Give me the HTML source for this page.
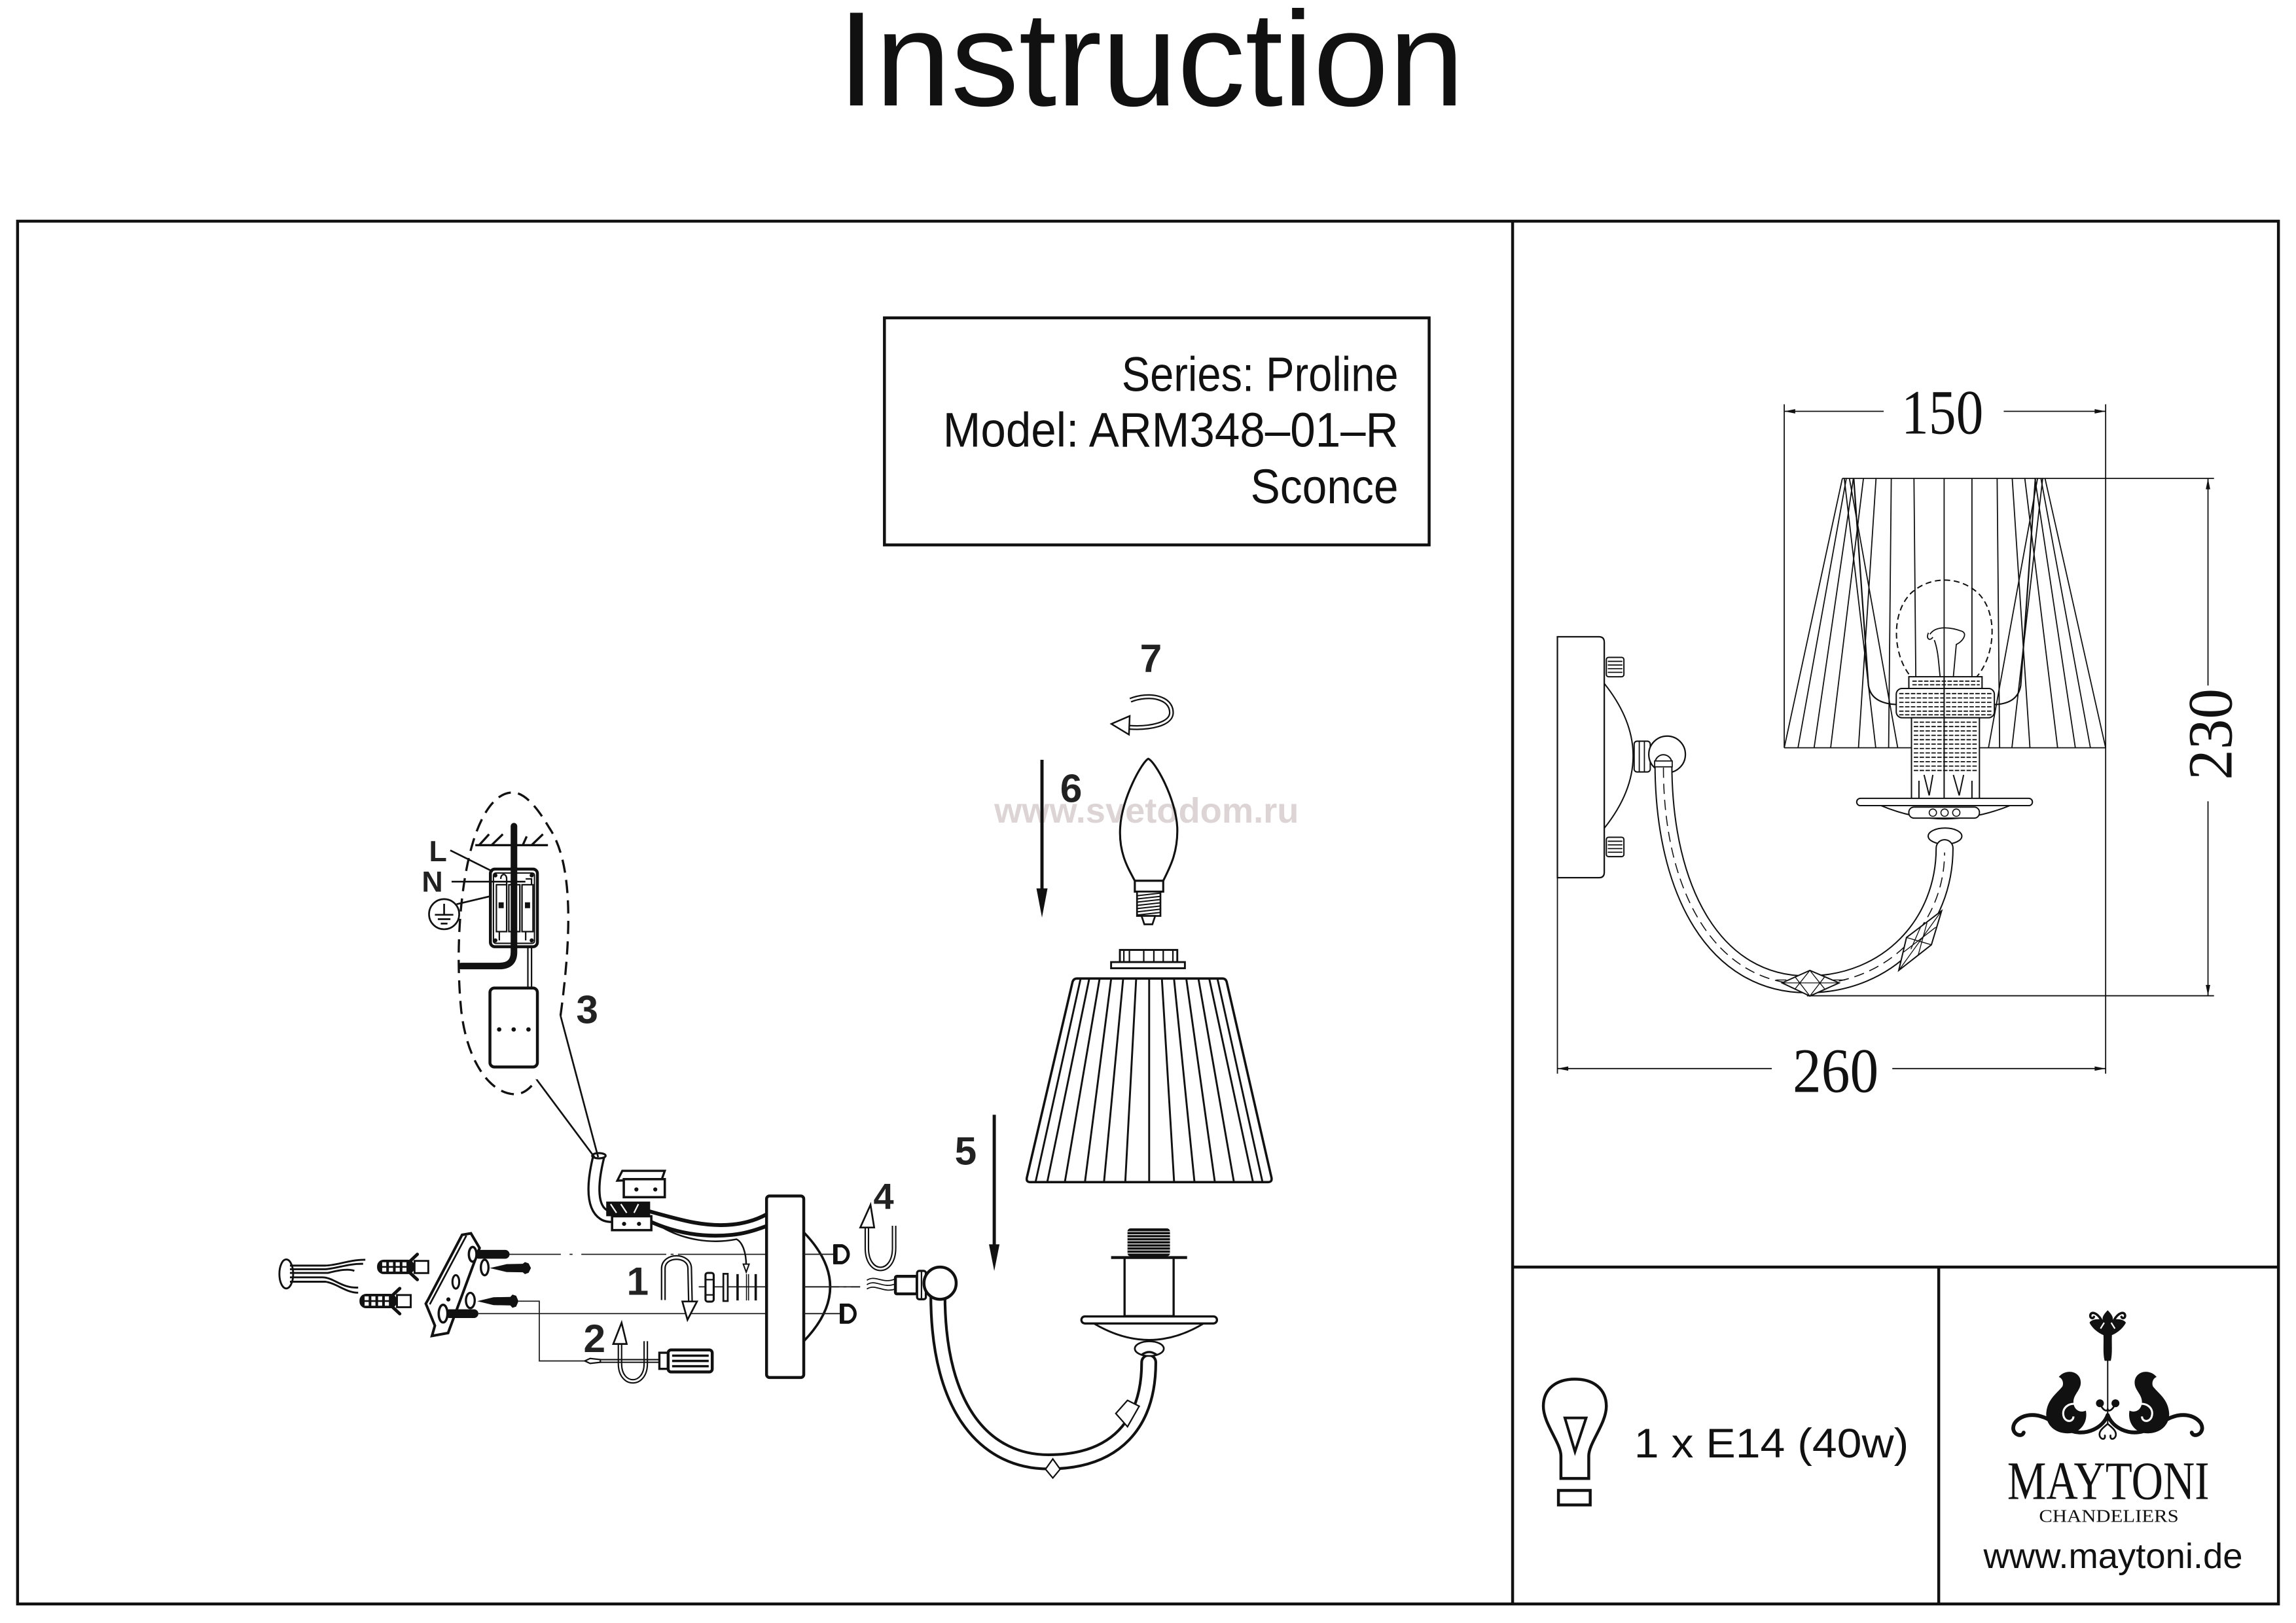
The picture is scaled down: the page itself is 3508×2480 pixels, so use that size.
<!DOCTYPE html>
<html><head><meta charset="utf-8"><title>Instruction</title>
<style>html,body{margin:0;padding:0;background:#fff}svg{display:block}</style></head><body>
<svg xmlns="http://www.w3.org/2000/svg" width="3508" height="2480" viewBox="0 0 1568 1108" preserveAspectRatio="none">
<rect width="1568" height="1108" fill="#fff"/>

<!-- Title -->
<text x="572" y="72" font-family="Liberation Sans, Arial, sans-serif" font-size="92" textLength="428" lengthAdjust="spacingAndGlyphs" fill="#111">Instruction</text>

<!-- Frame -->
<g fill="none" stroke="#111" stroke-width="2">
<rect x="12" y="151" width="1544" height="944"/>
<line x1="1033" y1="151" x2="1033" y2="1095"/>
<line x1="1033" y1="865" x2="1556" y2="865"/>
<line x1="1324" y1="865" x2="1324" y2="1095"/>
<rect x="604" y="217" width="372" height="155"/>
</g>
<g font-family="Liberation Sans, Arial, sans-serif" font-size="33" fill="#111">
<text x="766" y="267" textLength="189" lengthAdjust="spacingAndGlyphs">Series: Proline</text>
<text x="644" y="305" textLength="311" lengthAdjust="spacingAndGlyphs">Model: ARM348–01–R</text>
<text x="854" y="343.5" textLength="101" lengthAdjust="spacingAndGlyphs">Sconce</text>
</g>

<!-- ============ RIGHT DIMENSION DRAWING ============ -->
<g fill="none" stroke="#111" stroke-width="0.8">
 <line x1="1218.5" y1="280.8" x2="1286.4" y2="280.8"/>
 <line x1="1368.4" y1="280.8" x2="1438" y2="280.8"/>
 <line x1="1218.5" y1="276" x2="1218.5" y2="510.5"/>
 <line x1="1438" y1="276" x2="1438" y2="733"/>
 <line x1="1396.6" y1="326.6" x2="1512" y2="326.6"/>
 <line x1="1507.9" y1="326.6" x2="1507.9" y2="468"/>
 <line x1="1507.9" y1="547" x2="1507.9" y2="679.8"/>
 <line x1="1234" y1="679.8" x2="1512" y2="679.8"/>
 <line x1="1063.6" y1="599.2" x2="1063.6" y2="733"/>
 <line x1="1063.6" y1="729.5" x2="1210" y2="729.5"/>
 <line x1="1292.3" y1="729.5" x2="1438" y2="729.5"/>
</g>
<g fill="#111">
 <polygon points="1218.5,280.8 1226,279.3 1226,282.3"/>
 <polygon points="1438,280.8 1430.5,279.3 1430.5,282.3"/>
 <polygon points="1507.9,326.6 1506.4,334 1509.4,334"/>
 <polygon points="1507.9,679.8 1506.4,672.4 1509.4,672.4"/>
 <polygon points="1063.6,729.5 1071,728 1071,731"/>
 <polygon points="1438,729.5 1430.5,728 1430.5,731"/>
</g>
<g font-family="Liberation Serif, 'Times New Roman', serif" font-size="43" fill="#111">
 <text x="1298.5" y="296" textLength="56" lengthAdjust="spacingAndGlyphs">150</text>
 <text x="1224.3" y="745.4" textLength="58.6" lengthAdjust="spacingAndGlyphs">260</text>
 <text transform="translate(1524,532.5) rotate(-90)" textLength="62.5" lengthAdjust="spacingAndGlyphs">230</text>
</g>

<!-- shade (right) -->
<g fill="none" stroke="#111" stroke-width="0.8">
 <path d="M1258.2,326.6 L1218.5,510.5 M1396.6,326.6 L1438,510.5 M1258.2,326.6 L1396.6,326.6 M1218.5,510.5 L1438,510.5"/>
 <path d="M1260.9,326.6 L1227.9,510.5 M1265.7,326.6 L1238.9,510.5 M1272.6,326.6 L1250.2,510.5 M1281.2,326.6 L1269.2,510.5 M1291.6,326.6 L1289.8,510.5 M1307.1,326.6 L1308.8,510.5 M1327.7,326.6 L1327.7,510.5 M1346.7,326.6 L1346.7,510.5 M1363.9,326.6 L1365.6,510.5 M1374.2,326.6 L1386.3,510.5 M1382.8,326.6 L1405.2,510.5 M1389.7,326.6 L1417.3,510.5 M1393.8,326.6 L1427.6,510.5"/>
 <path d="M1259.5,326.6 L1281,510.5 M1263,326.6 L1296,510.5 M1395,326.6 L1374,510.5 M1391.5,326.6 L1358,510.5"/>
 <path d="M1266,327 L1276,468 Q1278,480.5 1296,481 M1390,327 L1380,468 Q1378,480.5 1362,481" stroke-width="1"/>
</g>
<!-- bulb dashed -->
<path d="M1308,465 C1293,452 1290,420 1305,405 C1318,393 1338,393 1351,405 C1366,420 1362,452 1347,465" fill="none" stroke="#111" stroke-width="0.9" stroke-dasharray="4 2.5"/>
<path d="M1318,433 C1322,427 1332,428 1340,431 C1344,433 1340,438 1336,440 L1334,462 M1321,437 C1324,445 1324,455 1325,462 M1317,432 C1315,436 1318,438 1320,435" fill="none" stroke="#111" stroke-width="0.8"/>
<!-- socket right -->
<g fill="#fff" stroke="#111" stroke-width="0.9">
 <rect x="1303.6" y="462" width="50" height="8"/>
 <rect x="1295" y="470" width="67" height="20" rx="4"/>
 <rect x="1305.4" y="490" width="46.4" height="56"/>
</g>
<g stroke="#111" stroke-width="0.8" fill="none" stroke-dasharray="3 1">
 <path d="M1297,473.5 H1360 M1297,476.5 H1360 M1297,479.5 H1360 M1297,482.5 H1360 M1297,485.5 H1360 M1297,488 H1360"/>
 <path d="M1307,493 H1350 M1307,496 H1350 M1307,499 H1350 M1307,502 H1350 M1307,505 H1350 M1307,508 H1350 M1307,511 H1350 M1307,514 H1350 M1307,517 H1350 M1307,520 H1350 M1307,523 H1350 M1307,526 H1350"/>
 <path d="M1306,465 H1352 M1306,467.5 H1352"/>
</g>
<g fill="none" stroke="#111" stroke-width="0.9">
 <path d="M1314,529 L1317.5,543 L1320,529 M1334,529 L1338,543 L1341,529 M1310.5,533 V546 M1346.7,533 V546"/>
 <line x1="1327.7" y1="462" x2="1327.7" y2="546"/>
</g>
<rect x="1268" y="545" width="120" height="5" rx="2.5" fill="#fff" stroke="#111" stroke-width="0.9"/>
<path d="M1284.7,550 Q1327.7,568 1372.5,550" fill="none" stroke="#111" stroke-width="0.9"/>
<rect x="1303.6" y="551" width="48.2" height="7.5" rx="3.5" fill="#fff" stroke="#111" stroke-width="0.9"/>
<g fill="none" stroke="#111" stroke-width="0.7"><circle cx="1320" cy="554.8" r="2.5"/><circle cx="1328" cy="554.8" r="2.5"/><circle cx="1336" cy="554.8" r="2.5"/></g>
<ellipse cx="1328.3" cy="570.8" rx="11.5" ry="5.5" fill="#fff" stroke="#111" stroke-width="0.9"/>
<!-- wall plate right -->
<path d="M1063.6,434.7 L1092,434.7 Q1095.6,434.7 1095.6,438.5 L1095.6,595.5 Q1095.6,599.2 1092,599.2 L1063.6,599.2 Z" fill="#fff" stroke="#111" stroke-width="1"/>
<g fill="#fff" stroke="#111" stroke-width="0.9">
 <rect x="1097" y="448.8" width="12" height="13.2" rx="1.5"/>
 <rect x="1097" y="571.6" width="12" height="13.2" rx="1.5"/>
</g>
<g stroke="#111" stroke-width="0.8"><path d="M1098,451.5 H1108 M1098,454 H1108 M1098,456.5 H1108 M1098,459 H1108 M1098,574.3 H1108 M1098,576.8 H1108 M1098,579.3 H1108 M1098,581.8 H1108"/></g>
<path d="M1095.6,466.6 Q1135,516 1095.6,565.4" fill="none" stroke="#111" stroke-width="0.9"/>
<g fill="#fff" stroke="#111" stroke-width="0.9"><rect x="1116" y="506" width="11" height="21" rx="2"/></g>
<path d="M1119.5,506 V527 M1123,506 V527" stroke="#111" stroke-width="0.8"/>
<circle cx="1138.5" cy="515" r="12.5" fill="#fff" stroke="#111" stroke-width="1"/>
<!-- arm right -->
<path d="M1136,521 C1136,610 1172,672 1234,672 C1290,672 1328,630 1328,579" fill="none" stroke="#111" stroke-width="12.4" stroke-linecap="round"/>
<path d="M1136,521 C1136,610 1172,672 1234,672 C1290,672 1328,630 1328,579" fill="none" stroke="#fff" stroke-width="10.6" stroke-linecap="round"/>
<path d="M1136,524 C1136,610 1172,672 1234,672 C1290,672 1328,630 1328,582" fill="none" stroke="#111" stroke-width="0.7" stroke-dasharray="7 4"/>
<rect x="1130" y="519.5" width="12" height="4" fill="#fff" stroke="#111" stroke-width="0.8"/>
<!-- crystals right -->
<g fill="#fff" stroke="#111" stroke-width="0.9">
 <polygon points="1217,671 1236,662.5 1256,671 1236,680"/>
 <polygon points="1296.7,662.5 1302,640 1326,621.8 1319,645"/>
</g>
<g fill="none" stroke="#111" stroke-width="0.6">
 <path d="M1217,671 H1256 M1226,667 L1236,680 L1246,667 M1226,675 L1236,662.5 L1246,675 M1213,669 H1220 M1252,669 H1260"/>
 <path d="M1296.7,662.5 L1326,621.8 M1302,640 L1319,645 M1300,650 L1322,633 M1305,648 L1312,632 M1310,652 L1316,630"/>
</g>

<!-- ============ BOTTOM RIGHT PANEL ============ -->
<g fill="none" stroke="#111" stroke-width="2">
 <path d="M1066,1009.3 L1066,994 C1066,985 1054,972 1054,960 C1054,948 1063,941.5 1075.5,941.5 C1088,941.5 1097,948 1097,960 C1097,972 1085,985 1085,994 L1085,1009.3 Z"/>
 <rect x="1064.3" y="1017.5" width="21.7" height="9.9"/>
 <polygon points="1068.7,968 1083.2,968 1075.6,991" stroke-width="1.8"/>
</g>
<text x="1116" y="995" font-family="Liberation Sans, Arial, sans-serif" font-size="28" fill="#111" textLength="187.5" lengthAdjust="spacingAndGlyphs">1 x E14 (40w)</text>

<!-- Maytoni ornament -->
<g fill="#111">
 <path d="M1439.4,894.5 C1437,897 1435.5,899 1436,901 C1432,900 1428,901 1427,903 C1429,907 1433,910 1436.5,911.5 L1442.3,911.5 C1445.8,910 1449.8,907 1451.8,903 C1450.8,901 1446.8,900 1442.8,901 C1443.3,899 1441.8,897 1439.4,894.5 Z"/>
 <path d="M1436.5,911 L1442.3,911 C1442,918 1442.8,924 1441.5,929 L1437.3,929 C1436,924 1436.8,918 1436.5,911 Z"/>
 <path d="M1406,940 C1411,934 1421,936 1421,944 C1421,949 1416,952 1416,957 C1416,962 1420,965 1424.5,963 C1426,971 1421,978 1413,978.5 C1403,979 1396.5,972 1397.5,964 C1398.5,955 1405,951 1408.5,946.5 C1409.5,944 1408.5,941 1406,940 Z"/>
 <path transform="translate(2878.8,0) scale(-1,1)" d="M1406,940 C1411,934 1421,936 1421,944 C1421,949 1416,952 1416,957 C1416,962 1420,965 1424.5,963 C1426,971 1421,978 1413,978.5 C1403,979 1396.5,972 1397.5,964 C1398.5,955 1405,951 1408.5,946.5 C1409.5,944 1408.5,941 1406,940 Z"/>
 <circle cx="1434.1" cy="958" r="2.7"/>
 <circle cx="1444.7" cy="958" r="2.7"/>
</g>
<g fill="none" stroke="#fff" stroke-width="1.4">
 <path d="M1418,958.5 C1412,957.5 1407.5,962 1409.5,967.5 C1411.5,971.5 1416,970.5 1416,967"/>
 <path transform="translate(2878.8,0) scale(-1,1)" d="M1418,958.5 C1412,957.5 1407.5,962 1409.5,967.5 C1411.5,971.5 1416,970.5 1416,967"/>
 <path d="M1437,903 L1434.5,907 M1441.8,903 L1444.3,907" stroke-width="1"/>
</g>
<g fill="none" stroke="#111" stroke-linecap="round">
 <path d="M1439.4,928 L1439.4,972" stroke-width="0.9"/>
 <path d="M1435,901 C1432,896 1428,895 1427.5,898 C1427.3,900 1429.5,900.5 1430,899" stroke-width="1.6"/>
 <path d="M1443.8,901 C1446.8,896 1450.8,895 1451.3,898 C1451.5,900 1449.3,900.5 1448.8,899" stroke-width="1.6"/>
 <path d="M1439.4,966 C1436,975 1425,980 1415,977 C1405,974 1398,966 1388,966 C1380,966 1374,971 1375,976 C1376,980 1381,981 1382,978" stroke-width="2.6"/>
 <path d="M1439.4,966 C1442.8,975 1453.8,980 1463.8,977 C1473.8,974 1480.8,966 1490.8,966 C1498.8,966 1504.8,971 1503.8,976 C1502.8,980 1497.8,981 1496.8,978" stroke-width="2.6"/>
 <path d="M1434.1,958 C1436,963 1439,964 1439.4,962 M1444.7,958 C1442.8,963 1439.8,964 1439.4,962" stroke-width="1.2"/>
 <path d="M1439.4,972 C1436,975 1433,977 1434,980.5 C1435,983 1438,983 1437.5,980 M1439.4,972 C1442.8,975 1445.8,977 1444.8,980.5 C1443.8,983 1440.8,983 1441.3,980" stroke-width="1.2"/>
</g>
<text x="1370.8" y="1023.3" font-family="Liberation Serif, 'Times New Roman', serif" font-size="37" fill="#111" textLength="138" lengthAdjust="spacingAndGlyphs">MAYTONI</text>
<text x="1392.5" y="1039" font-family="Liberation Serif, 'Times New Roman', serif" font-size="12.5" fill="#111" textLength="95.4" lengthAdjust="spacingAndGlyphs">CHANDELIERS</text>
<text x="1354.6" y="1070.4" font-family="Liberation Sans, Arial, sans-serif" font-size="24" fill="#111" textLength="177" lengthAdjust="spacingAndGlyphs">www.maytoni.de</text>

<!-- ============ LEFT ASSEMBLY DRAWING ============ -->
<!-- watermark -->
<text x="679" y="561.5" font-family="Liberation Sans, Arial, sans-serif" font-weight="bold" font-size="24" fill="#ddd5d5" textLength="208" lengthAdjust="spacingAndGlyphs">www.svetodom.ru</text>

<!-- step numbers -->
<g font-family="Liberation Sans, Arial, sans-serif" font-weight="bold" font-size="27" fill="#222">
 <text x="778.5" y="458.7">7</text>
 <text x="724" y="547.6">6</text>
 <text x="393.5" y="698.5">3</text>
 <text x="652" y="795">5</text>
 <text x="596.5" y="825.5" font-size="25">4</text>
 <text x="428" y="884">1</text>
 <text x="398.5" y="923">2</text>
 <text x="293" y="588" font-size="20">L</text>
 <text x="288" y="608.7" font-size="20">N</text>
</g>

<!-- arrows 6 and 5 -->
<g fill="#111" stroke="#111">
 <line x1="711.6" y1="518.7" x2="711.6" y2="608" stroke-width="2.2"/>
 <polygon points="707.8,606.5 715.4,606.5 711.6,626.4" stroke="none"/>
 <line x1="679" y1="761" x2="679" y2="851" stroke-width="2.2"/>
 <polygon points="675.4,849.5 682.6,849.5 679,867.7" stroke="none"/>
</g>

<!-- rotation arrow 7 -->
<path d="M772,478 C785,473 800,476 800,486.5 C800,494.5 785,497.5 771,496.5" fill="none" stroke="#111" stroke-width="3.4"/>
<path d="M772,478 C785,473 800,476 800,486.5 C800,494.5 785,497.5 771,496.5" fill="none" stroke="#fff" stroke-width="1.4"/>
<polygon points="759,494.2 771.5,488.8 771,501.5" fill="#fff" stroke="#111" stroke-width="1.1"/>

<!-- candle bulb -->
<path d="M784.2,518 C780,520 766,545 765,565 C764,582 770,592 775,601.3 L794.4,601.3 C799,592 804.5,582 804,565 C803,545 789,520 784.2,518 Z" fill="none" stroke="#111" stroke-width="1.4"/>
<rect x="775" y="601.3" width="19.4" height="7.4" fill="#fff" stroke="#111" stroke-width="1.4"/>
<rect x="776.5" y="608.7" width="16" height="16.6" fill="#fff" stroke="#111" stroke-width="1.2"/>
<path d="M776.5,611.5 L792.5,609.7 M776.5,613.7 L792.5,611.9 M776.5,615.9 L792.5,614.1 M776.5,618.1 L792.5,616.3 M776.5,620.3 L792.5,618.5 M776.5,622.5 L792.5,620.7 M776.5,624.7 L792.5,622.9" stroke="#111" stroke-width="0.9"/>
<polygon points="779.6,625.3 788.9,625.3 787,631 781.5,631" fill="#fff" stroke="#111" stroke-width="1.2"/>

<!-- shade top ring -->
<rect x="764.8" y="648.5" width="39.2" height="8.3" fill="#fff" stroke="#111" stroke-width="1.3"/>
<path d="M767.5,648.5 V656.8 M771.3,648.5 V656.8 M781.1,648.5 V656.8 M788,648.5 V656.8 M794.4,648.5 V656.8 M801,648.5 V656.8" stroke="#111" stroke-width="1"/>
<rect x="758.8" y="656.8" width="50.4" height="4.2" fill="#fff" stroke="#111" stroke-width="1.3"/>

<!-- shade left -->
<path d="M735.5,668 L834.8,668 Q837,668 837.7,670.2 L868.3,803.8 Q869,807 866,807 L703.5,807 Q700.6,807 701.3,803.8 L732.5,670.2 Q733.3,668 735.5,668 Z" fill="#fff" stroke="#111" stroke-width="1.6"/>
<path d="M737.9,668.5 L707.3,806.5 M743.8,668.5 L715.3,806.5 M750.9,668.5 L727.3,806.5 M758.8,668.5 L741,806.5 M767,668.5 L754,806.5 M775.9,668.5 L768.5,806.5 M784.8,668.5 L784.8,806.5 M793.5,668.5 L801.8,806.5 M801.8,668.5 L815.7,806.5 M810.2,668.5 L829.6,806.5 M818.5,668.5 L842.6,806.5 M825.9,668.5 L855.6,806.5 M831.5,668.5 L862.1,806.5" fill="none" stroke="#111" stroke-width="1.3"/>

<!-- socket / drip pan left -->
<rect x="770" y="838.6" width="29" height="19" rx="2" fill="#111"/>
<path d="M770,840.8 H799 M770,842.9 H799 M770,845 H799 M770,847.1 H799 M770,849.2 H799 M770,851.3 H799 M770,853.4 H799 M770,855.5 H799" stroke="#fff" stroke-width="0.55"/>
<rect x="768" y="858.5" width="33.5" height="40" fill="#fff" stroke="#111" stroke-width="1.5"/>
<line x1="758.8" y1="858.5" x2="810.7" y2="858.5" stroke="#111" stroke-width="2"/>
<path d="M747,903.5 Q785,926 822,903.5" fill="none" stroke="#111" stroke-width="1.3"/>
<rect x="738.5" y="898.7" width="92.6" height="4.8" rx="2.4" fill="#fff" stroke="#111" stroke-width="1.5"/>

<!-- arm left -->
<path d="M640.5,884 C640.5,965 675,998 716,998 C762,998 784.5,972 784.5,930" fill="none" stroke="#111" stroke-width="11.5" stroke-linecap="round"/>
<path d="M640.5,884 C640.5,965 675,998 716,998 C762,998 784.5,972 784.5,930" fill="none" stroke="#fff" stroke-width="7.8" stroke-linecap="round"/>
<ellipse cx="784.9" cy="920.7" rx="9.9" ry="5" fill="#fff" stroke="#111" stroke-width="1.2"/>
<path d="M779.6,925 Q784.7,921 790,925" fill="none" stroke="#111" stroke-width="1.5"/>
<g fill="#fff" stroke="#111" stroke-width="1">
 <polygon points="714,1003 719,996 724,1003 719,1009"/>
 <polygon points="762,965 770,956 778,960 770,974"/>
</g>
<!-- elbow -->
<path d="M592,874 C598,870 603,877 611.5,873 M592,877 C598,873 603,880 611.5,876.5 M592,880 C598,876 603,883 611.5,880" fill="none" stroke="#111" stroke-width="0.8"/>
<rect x="611.5" y="871.3" width="14.8" height="12" rx="1" fill="#fff" stroke="#111" stroke-width="2"/>
<rect x="626.3" y="867.6" width="6" height="19.4" rx="1.5" fill="#fff" stroke="#111" stroke-width="1.5"/>
<line x1="629.3" y1="867.6" x2="629.3" y2="887" stroke="#111" stroke-width="1"/>
<circle cx="642" cy="876" r="11" fill="#fff" stroke="#111" stroke-width="2"/>

<!-- center lines -->
<g stroke="#222" stroke-width="0.8" fill="none">
 <path d="M348,856.3 H383 M389,856.3 H391 M397,856.3 H455 M458,856.3 H460 M463,856.3 H575"/>
 <path d="M326.7,896.8 H578"/>
 <path d="M477.2,878.5 H525.4 M528,878.5 H530 M533.7,878.5 H587.4"/>
 <path d="M354.1,888.3 H368.3 V929.1 H400"/>
</g>

<!-- nut & washers -->
<rect x="481.8" y="869" width="5.6" height="19.6" rx="1.5" fill="#fff" stroke="#111" stroke-width="1.4"/>
<path d="M481.8,873.6 H487.4 M481.8,884 H487.4" stroke="#111" stroke-width="1"/>
<rect x="494" y="869.6" width="3" height="18.6" fill="#fff" stroke="#111" stroke-width="1.2"/>
<path d="M503.7,869.8 V887.8 M516.1,869.8 V887.8" stroke="#111" stroke-width="1.6"/>
<path d="M509.8,869.8 V887.8 M511.2,869.8 V887.8" stroke="#111" stroke-width="0.7"/>

<!-- rotation arrow 1 -->
<path d="M453,887.5 L453,866 C453,856 471,856 471,866 L471.5,889" fill="none" stroke="#111" stroke-width="3.4"/>
<path d="M453,887.5 L453,866 C453,856 471,856 471,866 L471.5,889" fill="none" stroke="#fff" stroke-width="1.4"/>
<polygon points="466,888.5 476,888.5 469.5,901" fill="#fff" stroke="#111" stroke-width="1.2"/>

<!-- rotation arrow 2 -->
<path d="M423.4,917 L423.4,931 C423.4,947 441,947 441,931 L441,915.6" fill="none" stroke="#111" stroke-width="3.2"/>
<path d="M423.4,917 L423.4,931 C423.4,947 441,947 441,931 L441,915.6" fill="none" stroke="#fff" stroke-width="1.3"/>
<polygon points="418.8,917.5 428,917.5 424.5,903" fill="#fff" stroke="#111" stroke-width="1.2"/>

<!-- rotation arrow 4 -->
<path d="M592,837.6 L592,852 C592,871 610.6,871 610.6,852 L610.6,836.8" fill="none" stroke="#111" stroke-width="3.2"/>
<path d="M592,837.6 L592,852 C592,871 610.6,871 610.6,852 L610.6,836.8" fill="none" stroke="#fff" stroke-width="1.3"/>
<polygon points="587.5,838 597,838 594.5,822.5" fill="#fff" stroke="#111" stroke-width="1.2"/>

<!-- screwdriver -->
<polygon points="399.4,929.1 403,927.4 410,928.2 410,930 403,930.8" fill="#fff" stroke="#111" stroke-width="1"/>
<path d="M410,928.2 H450.3 M410,930 H450.3" stroke="#111" stroke-width="0.9"/>
<rect x="450.3" y="923.5" width="6" height="11" fill="#fff" stroke="#111" stroke-width="1.5"/>
<rect x="456.3" y="921.6" width="30.1" height="15" rx="2" fill="#fff" stroke="#111" stroke-width="2"/>
<path d="M459,925.5 H484 M459,929.1 H484 M459,932.7 H484" stroke="#111" stroke-width="1.6"/>

<!-- cables and clamp -->
<path d="M440,826 C462,832 480,838 500,836 C510,835 518,832 523.5,829" fill="none" stroke="#111" stroke-width="2.6"/>
<path d="M440,832 C460,842 480,845 500,843 C510,842 518,839 523.5,837" fill="none" stroke="#111" stroke-width="2.6"/>
<path d="M446,834 C466,848 488,849 503,846 C507,848 509.6,855 509.6,864" fill="none" stroke="#111" stroke-width="1.1"/>
<polygon points="507.6,863 511.6,863 509.6,868.5" fill="#fff" stroke="#111" stroke-width="0.9"/>
<path d="M409,789 C405,805 403,823 412,829 C414,830.5 417,830.5 421,830.5" fill="none" stroke="#111" stroke-width="9"/>
<path d="M409,789 C405,805 403,823 412,829 C414,830.5 417,830.5 421,830.5" fill="none" stroke="#fff" stroke-width="6"/>
<ellipse cx="409" cy="789" rx="4.6" ry="1.8" fill="#fff" stroke="#111" stroke-width="1.4"/>
<!-- clamp top -->
<polygon points="421.6,806 425,799.3 454,799.3 452,805" fill="#fff" stroke="#111" stroke-width="1.5"/>
<rect x="426" y="805" width="28" height="12.3" fill="#fff" stroke="#111" stroke-width="1.6"/>
<circle cx="434.6" cy="812" r="1.4" fill="#111"/><circle cx="447.5" cy="812" r="1.4" fill="#111"/>
<!-- clamp bottom -->
<rect x="414" y="820.3" width="30" height="10" fill="#111"/>
<path d="M417,822 L421,828 M424,822 L428,828 M436,822 L433,828" stroke="#fff" stroke-width="1"/>
<rect x="418" y="830.3" width="26.8" height="9.5" fill="#fff" stroke="#111" stroke-width="1.6"/>
<circle cx="426.2" cy="835.5" r="1.4" fill="#111"/><circle cx="436.4" cy="835.5" r="1.4" fill="#111"/>

<!-- canopy -->
<rect x="523.5" y="816.5" width="25.4" height="123.9" rx="2" fill="#fff" stroke="#111" stroke-width="2"/>
<path d="M548.9,841.3 Q585,878.5 548.9,915.6" fill="none" stroke="#111" stroke-width="1.6"/>
<path d="M549,878.5 H587.4" stroke="#222" stroke-width="0.8" stroke-dasharray="24 3 2 3"/>
<path d="M549,856.3 H572 M549,896.8 H575" stroke="#222" stroke-width="0.8"/>
<!-- D nuts -->
<path d="M570.5,850.5 L575,850.5 A6,6 0 0 1 575,862 L570.5,862 Z" fill="#fff" stroke="#111" stroke-width="2.2"/>
<rect x="569" y="849.6" width="3" height="13.4" fill="#111"/>
<path d="M575,891 L579.5,891 A6,6 0 0 1 579.5,902.6 L575,902.6 Z" fill="#fff" stroke="#111" stroke-width="2.2"/>
<rect x="573.5" y="890" width="3" height="13.6" fill="#111"/>

<!-- mounting bar -->
<polygon points="315.6,843 321.6,842 327.5,852 306,910 295,912 297,905 290.8,890 292.5,887" fill="#fff" stroke="#111" stroke-width="1.8"/>
<path d="M318.5,843.5 L293.5,890.5" stroke="#111" stroke-width="1.2"/>
<ellipse cx="311.3" cy="875.1" rx="2.3" ry="4.6" fill="#fff" stroke="#111" stroke-width="1.4"/>
<circle cx="306.2" cy="887.1" r="1.4" fill="#111"/>
<!-- bolts -->
<rect x="324" y="853.3" width="24" height="6" rx="3" fill="#111"/>
<ellipse cx="322.8" cy="856.3" rx="2.6" ry="5" fill="#fff" stroke="#111" stroke-width="1.6"/>
<rect x="304" y="893.8" width="22.7" height="6" rx="3" fill="#111"/>
<ellipse cx="302.6" cy="896.8" rx="3" ry="6" fill="#fff" stroke="#111" stroke-width="1.6"/>
<!-- wood screws -->
<polygon points="334.4,865.7 346,863 357,862.8 358.5,861.6 361,862.5 362.6,865.7 361,868.9 358.5,869.8 357,868.6 346,868.4" fill="#111"/>
<ellipse cx="331" cy="865.3" rx="2.6" ry="5.3" fill="#fff" stroke="#111" stroke-width="1.5"/>
<polygon points="325.9,888.3 337,885.6 348.5,885.4 350,883.8 352.5,884.6 354.1,888.3 352.5,892 350,892.8 348.5,891.2 337,891" fill="#111"/>
<ellipse cx="321.2" cy="887.8" rx="3" ry="5.2" fill="#fff" stroke="#111" stroke-width="1.5"/>

<!-- wall plugs -->
<g>
 <rect x="257.5" y="860" width="25.5" height="9.8" rx="4.5" fill="#111"/>
 <g fill="#fff">
  <rect x="261" y="861.7" width="2.8" height="2.6"/><rect x="265.6" y="861.7" width="2.8" height="2.6"/><rect x="270.2" y="861.7" width="2.8" height="2.6"/><rect x="274.8" y="861.7" width="2.8" height="2.6"/>
  <rect x="261" y="865.5" width="2.8" height="2.6"/><rect x="265.6" y="865.5" width="2.8" height="2.6"/><rect x="270.2" y="865.5" width="2.8" height="2.6"/><rect x="274.8" y="865.5" width="2.8" height="2.6"/>
 </g>
 <path d="M279,862 L285,856.3 M279,868 L285,873.6" stroke="#111" stroke-width="2.2" stroke-linecap="round"/>
 <rect x="283.1" y="860.8" width="9.4" height="8.3" fill="#fff" stroke="#111" stroke-width="1.3"/>
</g>
<g transform="translate(-12,23.3)">
 <rect x="257.5" y="860" width="25.5" height="9.8" rx="4.5" fill="#111"/>
 <g fill="#fff">
  <rect x="261" y="861.7" width="2.8" height="2.6"/><rect x="265.6" y="861.7" width="2.8" height="2.6"/><rect x="270.2" y="861.7" width="2.8" height="2.6"/><rect x="274.8" y="861.7" width="2.8" height="2.6"/>
  <rect x="261" y="865.5" width="2.8" height="2.6"/><rect x="265.6" y="865.5" width="2.8" height="2.6"/><rect x="270.2" y="865.5" width="2.8" height="2.6"/><rect x="274.8" y="865.5" width="2.8" height="2.6"/>
 </g>
 <path d="M279,862 L285,856.3 M279,868 L285,873.6" stroke="#111" stroke-width="2.2" stroke-linecap="round"/>
 <rect x="283.1" y="860.8" width="9.4" height="8.3" fill="#fff" stroke="#111" stroke-width="1.3"/>
</g>

<!-- wire bundle -->
<g fill="none" stroke="#111" stroke-width="1.3">
 <ellipse cx="195.5" cy="869.7" rx="4.7" ry="9.9"/>
 <path d="M198,864 L222,864 C230,864 238,860 249.5,860"/>
 <path d="M198,866.5 L222,866.5 C230,866 238,862.5 248,862.8"/>
 <path d="M198,869 L224,869 C232,867 238,866 242,867.6"/>
 <path d="M198,872 L220,872 C228,872 233,879.5 244.6,879"/>
 <path d="M198,875 L222,875 C230,876 236,882.5 244.6,882.5"/>
</g>

<!-- wiring inset -->
<path d="M382.8,693.4 C390,640 392,590 375,565 C365,548 357,541 350,541 C340,541 330,552 323,575 C314,605 311,650 315,690 C319,725 335,747 352,747 C358,747 363,742 366.5,737" fill="none" stroke="#111" stroke-width="1.5" stroke-dasharray="9 5"/>
<path d="M366.5,737 L406,790 M382.8,693.4 L408.5,790" fill="none" stroke="#111" stroke-width="1.2"/>
<g fill="none" stroke="#111" stroke-width="1.5">
 <path d="M324.6,577 L374.2,577"/>
 <path d="M327.2,577 L334,569.5 M335.7,577 L343.4,569.5 M357,577 L359.7,571 M363,577 L370.8,569.5"/>
</g>
<rect x="334.9" y="593.3" width="32.1" height="53" rx="3" fill="#fff" stroke="#111" stroke-width="2"/>
<rect x="337" y="596" width="28" height="48" rx="1.5" fill="none" stroke="#111" stroke-width="0.9"/>
<g fill="none" stroke="#111" stroke-width="1">
 <rect x="339" y="604" width="7" height="32"/>
 <rect x="347.5" y="604" width="7.5" height="32"/>
 <rect x="356.5" y="604" width="7.5" height="32"/>
 <path d="M342,600 C342,596 346,596 346,600 L346,604 M359,600 H363 V604 M341,636 V642 M359,636 V642"/>
</g>
<g fill="#111">
 <rect x="340.5" y="616" width="3.5" height="4"/><rect x="349.5" y="616" width="3.5" height="4"/><rect x="358.5" y="616" width="3.5" height="4"/>
 <circle cx="338.3" cy="597.6" r="1.4"/><circle cx="363.1" cy="597.6" r="1.4"/><circle cx="338.3" cy="642" r="1.4"/><circle cx="363.1" cy="642" r="1.4"/>
</g>
<path d="M351,564 L351,650 Q351,659.5 341,659.5 L315,659.5" fill="none" stroke="#111" stroke-width="4.5" stroke-linecap="round"/>
<path d="M360.5,646 V674.5 M363,646 V674.5" stroke="#111" stroke-width="1"/>
<rect x="334.6" y="674.5" width="32.4" height="53.9" rx="3" fill="#fff" stroke="#111" stroke-width="2"/>
<circle cx="340.9" cy="702.8" r="1.5" fill="#111"/><circle cx="350.8" cy="702.8" r="1.5" fill="#111"/><circle cx="360.9" cy="702.8" r="1.5" fill="#111"/>
<g fill="none" stroke="#111" stroke-width="1.2">
 <path d="M307.5,580.5 L336.6,595"/>
 <path d="M308.4,601.9 L358.8,601.9"/>
 <path d="M311.8,617.3 L335.8,611.6"/>
 <circle cx="303.3" cy="624.1" r="10.3"/>
 <path d="M303.3,617 V624.5 M297,624.5 H309.6 M299,627.5 H307.6 M301,630.5 H305.6"/>
</g>
</svg>
</body></html>
